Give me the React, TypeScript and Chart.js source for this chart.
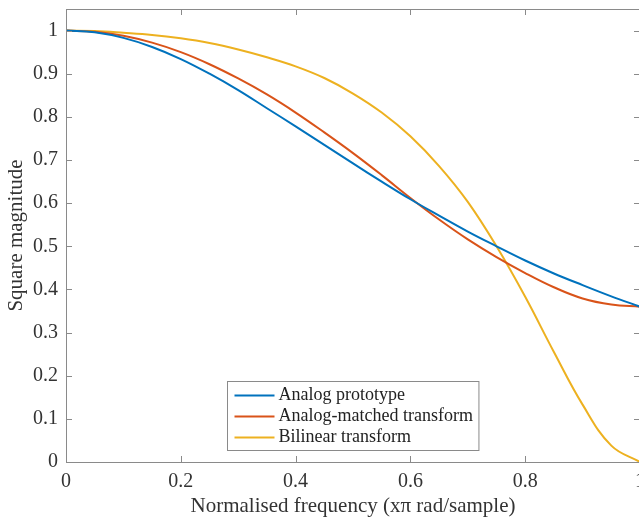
import React, { useEffect, useRef } from "react";
import { Chart, registerables } from "chart.js";

Chart.register(...registerables);

const freq = [0, 0.05, 0.1, 0.15, 0.2, 0.25, 0.3, 0.35, 0.4, 0.45, 0.5, 0.55, 0.6, 0.65, 0.7, 0.75, 0.8, 0.85, 0.9, 0.95, 1.0];
const analogPrototype = [1.0, 0.996, 0.983, 0.962, 0.934, 0.9, 0.862, 0.82, 0.778, 0.735, 0.692, 0.65, 0.609, 0.571, 0.534, 0.5, 0.467, 0.437, 0.41, 0.384, 0.36];
const analogMatched = [1.0, 0.997, 0.988, 0.972, 0.95, 0.922, 0.889, 0.852, 0.81, 0.764, 0.716, 0.665, 0.612, 0.562, 0.516, 0.475, 0.438, 0.405, 0.379, 0.365, 0.36];
const bilinear = [1.0, 0.999, 0.995, 0.99, 0.982, 0.971, 0.956, 0.938, 0.917, 0.89, 0.854, 0.81, 0.755, 0.686, 0.603, 0.5, 0.383, 0.255, 0.133, 0.038, 0.0];

const seriesLabels = ["Analog prototype", "Analog-matched transform", "Bilinear transform"];
const seriesColors = ["#0072BD", "#D95319", "#EDB120"];
const xTicks = [0, 0.2, 0.4, 0.6, 0.8, 1];
const yTicks = [0, 0.1, 0.2, 0.3, 0.4, 0.5, 0.6, 0.7, 0.8, 0.9, 1];
const xTitle = "Normalised frequency (x\u03C0 rad/sample)";
const yTitle = "Square magnitude";

const FONT = "'Liberation Serif', 'Times New Roman', serif";
const AXIS_COLOR = "#8a8a8a";
const TEXT_COLOR = "#333333";

const boxPlugin = {
  id: "matlabBox",
  afterDatasetsDraw(chart: any) {
    const { ctx, chartArea } = chart;
    const { left, right, top, bottom } = chartArea;
    const xs = chart.scales.x;
    const ys = chart.scales.y;
    const tl = 6;
    ctx.save();
    ctx.strokeStyle = AXIS_COLOR;
    ctx.lineWidth = 1;
    ctx.beginPath();
    xs.ticks.forEach((t: any) => {
      const px = Math.round(xs.getPixelForValue(t.value)) + 0.5;
      ctx.moveTo(px, bottom);
      ctx.lineTo(px, bottom - tl);
      ctx.moveTo(px, top);
      ctx.lineTo(px, top + tl);
    });
    ys.ticks.forEach((t: any) => {
      const py = Math.round(ys.getPixelForValue(t.value)) + 0.5;
      ctx.moveTo(left, py);
      ctx.lineTo(left + tl, py);
      ctx.moveTo(right, py);
      ctx.lineTo(right - tl, py);
    });
    ctx.stroke();
    ctx.strokeRect(Math.round(left) + 0.5, Math.round(top) + 0.5, Math.round(right - left), Math.round(bottom - top));

    // legend inside the axes
    ctx.font = `18px ${FONT}`;
    const ds = chart.data.datasets;
    let maxW = 0;
    ds.forEach((d: any) => {
      maxW = Math.max(maxW, ctx.measureText(d.label).width);
    });
    const lineLen = 40;
    const w = 7 + lineLen + 4 + maxW + 6;
    const rowH = 21;
    const h = 14 + rowH * (ds.length - 1) + 13;
    const cx = (left + right) / 2;
    const bx = Math.round(cx - w / 2) + 0.5;
    const by = Math.round(bottom - 12 - h) + 0.5;
    ctx.fillStyle = "#ffffff";
    ctx.fillRect(bx, by, w, h);
    ctx.strokeStyle = AXIS_COLOR;
    ctx.strokeRect(bx, by, w, h);
    ds.forEach((d: any, i: number) => {
      const y = by + 14 + i * rowH;
      ctx.strokeStyle = d.borderColor;
      ctx.lineWidth = 2;
      ctx.beginPath();
      ctx.moveTo(bx + 7, y);
      ctx.lineTo(bx + 7 + lineLen, y);
      ctx.stroke();
      ctx.fillStyle = "#222222";
      ctx.textBaseline = "middle";
      ctx.textAlign = "left";
      ctx.fillText(d.label, bx + 7 + lineLen + 4, y);
    });
    ctx.restore();
  },
};

export default function App() {
  const canvasRef = useRef<HTMLCanvasElement | null>(null);

  useEffect(() => {
    const canvas = canvasRef.current;
    if (!canvas) return;
    const series = [analogPrototype, analogMatched, bilinear];
    const chart = new Chart(canvas, {
      type: "line",
      data: {
        datasets: series.map((vals, i) => ({
          label: seriesLabels[i],
          data: freq.map((f, j) => ({ x: f, y: vals[j] })),
          borderColor: seriesColors[i],
          backgroundColor: seriesColors[i],
          borderWidth: 2,
          pointRadius: 0,
          tension: 0.4,
          fill: false,
        })),
      },
      options: {
        responsive: false,
        animation: false,
        devicePixelRatio: 1,
        layout: { padding: { top: 9, right: 20, left: 0, bottom: 0 } },
        plugins: {
          legend: { display: false },
          tooltip: { enabled: false },
        },
        scales: {
          x: {
            type: "linear",
            min: 0,
            max: 1,
            grid: { display: false, drawTicks: false },
            border: { display: false },
            afterBuildTicks: (s: any) => {
              s.ticks = xTicks.map((v) => ({ value: v }));
            },
            afterFit: (s: any) => {
              s.height = 58;
              s.paddingLeft = 0;
              s.paddingRight = 0;
              s.paddingTop = 0;
              s.paddingBottom = 0;
            },
            ticks: {
              padding: 8,
              maxRotation: 0,
              autoSkip: false,
              color: TEXT_COLOR,
              font: { family: FONT, size: 20 },
              callback: (v: any) => String(Math.round(Number(v) * 10) / 10),
            },
            title: {
              display: true,
              text: xTitle,
              color: TEXT_COLOR,
              font: { family: FONT, size: 21 },
              padding: { top: 0, bottom: 1 },
            },
          },
          y: {
            type: "linear",
            min: 0,
            max: 1.05,
            grid: { display: false, drawTicks: false },
            border: { display: false },
            afterBuildTicks: (s: any) => {
              s.ticks = yTicks.map((v) => ({ value: v }));
            },
            afterFit: (s: any) => {
              s.width = 66;
              s.paddingLeft = 0;
              s.paddingRight = 0;
              s.paddingTop = 0;
              s.paddingBottom = 0;
            },
            ticks: {
              padding: 8,
              autoSkip: false,
              color: TEXT_COLOR,
              font: { family: FONT, size: 20 },
              callback: (v: any) => String(Math.round(Number(v) * 10) / 10),
            },
            title: {
              display: true,
              text: yTitle,
              color: TEXT_COLOR,
              font: { family: FONT, size: 21 },
              padding: { top: 4, bottom: 0 },
            },
          },
        },
      },
      plugins: [boxPlugin],
    });
    return () => chart.destroy();
  }, []);

  return (
    <div
      style={{
        position: "fixed",
        left: 0,
        top: 0,
        width: 639,
        height: 520,
        overflow: "hidden",
        background: "#ffffff",
      }}
    >
      <canvas ref={canvasRef} width={660} height={520} style={{ display: "block", width: 660, height: 520 }} />
    </div>
  );
}
